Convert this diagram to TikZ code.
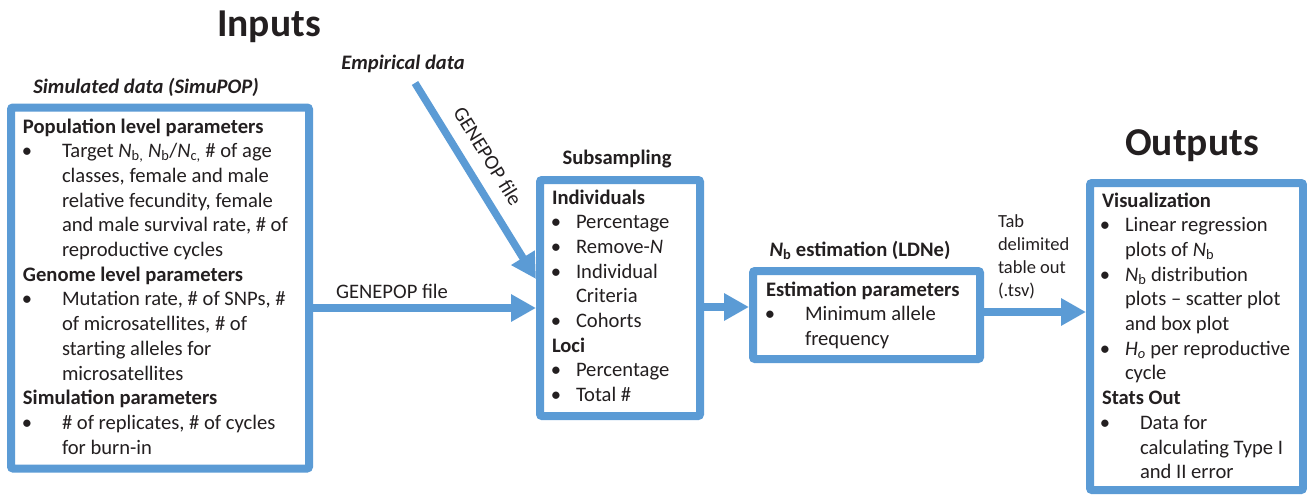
\documentclass[tikz,border=0pt]{standalone}
\usepackage{fontspec}
\setmainfont{Carlito}
\usetikzlibrary{arrows.meta}
\definecolor{boxblue}{HTML}{5B9BD5}
\definecolor{ink}{HTML}{231F20}
\newcommand\bodyfs{\fontsize{20.6}{24}\selectfont}
\tikzset{
  x=1pt,y=-1pt,
  box/.style={draw=boxblue,line width=8pt,rounded corners=2pt,inner sep=0pt,fill=white},
  txt/.style={anchor=base west,inner sep=0pt,outer sep=0pt,text=ink,font=\bodyfs},
  hd/.style={txt,font=\bodyfs\bfseries},
  bul/.style={anchor=base,inner sep=0pt,outer sep=0pt,text=ink,font=\bodyfs},
  small/.style={txt,font=\fontsize{18.5}{22}\selectfont},
  title/.style={anchor=base,inner sep=0pt,text=ink,font=\fontsize{39.5}{45}\selectfont\bfseries},
  flow/.style={draw=boxblue,line width=7.5pt,-{Triangle[length=25pt,width=26pt]}},
}
\begin{document}
\begin{tikzpicture}
\useasboundingbox (0,0) rectangle (1307,495);
% boxes
\node[box,minimum width=298pt,minimum height=361pt] (sim) at (160,288) {};
\node[box,minimum width=160pt,minimum height=236pt] (sub) at (620,298) {};
\node[box,minimum width=227pt,minimum height=88pt] (nb) at (866.5,315) {};
\node[box,minimum width=213pt,minimum height=307pt] (out) at (1196.5,336.5) {};
% titles
\node[title] (inputs) at (269,37) {Inputs};
\node[title] (outputs) at (1192,155) {Outputs};
\node[bul,font=\bodyfs\bfseries\itshape] (simt) at (146,94) {Simulated data (SimuPOP)};
\node[bul,font=\bodyfs\bfseries\itshape] (empt) at (403,70) {Empirical data};
\node[bul,font=\bodyfs\bfseries] (subt) at (617,164) {Subsampling};
\node[bul,font=\bodyfs\bfseries] (nbt) at (860,256) {\textit{N}\textsubscript{b} estimation (LDNe)};
% arrows
\coordinate (empstart) at (415,83);
\draw[flow] (empstart) -- (sub.west |- 0,279);
\draw[flow] (sim.east |- 0,308) -- (sub.west |- 0,308);
\draw[flow] (sub.east |- 0,307) -- (nb.west |- 0,307);
\draw[flow] (nb.east |- 0,312) -- (out.west |- 0,312);
\node[bul,anchor=center,rotate=-58.3] (gp1) at (488,156) {GENEPOP file};
\node[bul] (gp2) at (392,298) {GENEPOP file};
% simulated box text
\node[hd] (s1) at (23,133) {Population level parameters};
\node[bul] (sb1) at (27,157.7) {•};
\node[txt] (s2) at (62,157.7) {Target \textit{N}\textsubscript{b,} \textit{N}\textsubscript{b}/\textit{N}\textsubscript{c,} \# of age};
\node[txt] (s3) at (62,182.4) {classes, female and male};
\node[txt] (s4) at (62,207.1) {relative fecundity, female};
\node[txt] (s5) at (62,231.8) {and male survival rate, \# of};
\node[txt] (s6) at (62,256.5) {reproductive cycles};
\node[hd] (s7) at (23,281.2) {Genome level parameters};
\node[bul] (sb2) at (27,305.9) {•};
\node[txt] (s8) at (62,305.9) {Mutation rate, \# of SNPs, \#};
\node[txt] (s9) at (62,330.6) {of microsatellites, \# of};
\node[txt] (s10) at (62,355.3) {starting alleles for};
\node[txt] (s11) at (62,380) {microsatellites};
\node[hd] (s12) at (23,404.7) {Simulation parameters};
\node[bul] (sb3) at (27,429.4) {•};
\node[txt] (s13) at (62,429.4) {\# of replicates, \# of cycles};
\node[txt] (s14) at (62,454.1) {for burn-in};
% subsampling text
\node[hd] (u1) at (552,204) {Individuals};
\node[bul] (ub1) at (556,228.7) {•};
\node[txt] (u2) at (576,228.7) {Percentage};
\node[bul] (ub2) at (556,253.4) {•};
\node[txt] (u3) at (576,253.4) {Remove-\textit{N}};
\node[bul] (ub3) at (556,278.1) {•};
\node[txt] (u4) at (576,278.1) {Individual};
\node[txt] (u5) at (576,302.8) {Criteria};
\node[bul] (ub4) at (556,327.5) {•};
\node[txt] (u6) at (576,327.5) {Cohorts};
\node[hd] (u7) at (552,352.2) {Loci};
\node[bul] (ub5) at (556,376.9) {•};
\node[txt] (u8) at (576,376.9) {Percentage};
\node[bul] (ub6) at (556,401.6) {•};
\node[txt] (u9) at (576,401.6) {Total \#};
% Nb text
\node[hd] (n1) at (766,296) {Estimation parameters};
\node[bul] (nb1) at (770,320.7) {•};
\node[txt] (n2) at (805,320.7) {Minimum allele};
\node[txt] (n3) at (805,345.4) {frequency};
% tab text
\node[small] (t1) at (998,227) {Tab};
\node[small] (t2) at (998,250) {delimited};
\node[small] (t3) at (998,273) {table out};
\node[small] (t4) at (998,296) {(.tsv)};
% outputs text
\node[hd] (o1) at (1102,207) {Visualization};
\node[bul] (ob1) at (1105,231.7) {•};
\node[txt] (o2) at (1125,231.7) {Linear regression};
\node[txt] (o3) at (1125,256.4) {plots of \textit{N}\textsubscript{b}};
\node[bul] (ob2) at (1105,281.1) {•};
\node[txt] (o4) at (1125,281.1) {\textit{N}\textsubscript{b} distribution};
\node[txt] (o5) at (1125,305.8) {plots -- scatter plot};
\node[txt] (o6) at (1125,330.5) {and box plot};
\node[bul] (ob3) at (1105,355.2) {•};
\node[txt] (o7) at (1125,355.2) {\textit{H\textsubscript{o}} per reproductive};
\node[txt] (o8) at (1125,379.9) {cycle};
\node[hd] (o9) at (1102,404.6) {Stats Out};
\node[bul] (ob4) at (1105,429.3) {•};
\node[txt] (o10) at (1140,429.3) {Data for};
\node[txt] (o11) at (1140,454) {calculating Type I};
\node[txt] (o12) at (1140,478.7) {and II error};
\end{tikzpicture}
\end{document}
